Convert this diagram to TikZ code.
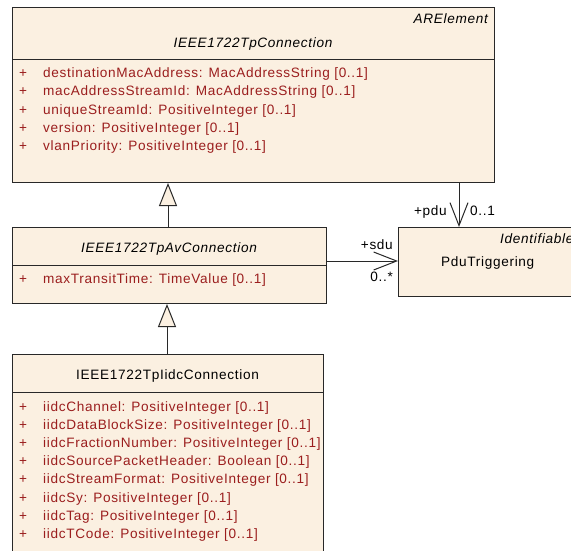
\documentclass[tikz,border=0pt]{standalone}
\usepackage{fontspec}
\newfontfamily\umlfont{Liberation Sans}[LetterSpace=5]
\usetikzlibrary{arrows.meta}
\definecolor{boxfill}{RGB}{251,240,225}
\definecolor{attrred}{RGB}{155,30,30}
\definecolor{edgegray}{RGB}{40,40,40}
\begin{document}
\begin{tikzpicture}[x=1pt,y=-1pt,
  box/.style={draw=edgegray, fill=boxfill, line width=1pt, rectangle, anchor=north west, inner sep=0pt},
  txt/.style={font=\umlfont\fontsize{13.6}{15}\selectfont, inner sep=0pt, anchor=base west},
  attr/.style={txt, text=attrred},
  ttl/.style={txt, anchor=base},
  ital/.style={font=\umlfont\itshape\fontsize{13.6}{15}\selectfont},
  gen/.style={draw=edgegray, line width=1pt, -{Triangle[length=23pt,width=18pt,fill=boxfill,line width=1pt]}},
  assoc/.style={draw=edgegray, line width=1pt, -{Straight Barb[length=23pt,width=18pt,line width=1pt]}}
]
\useasboundingbox (0,0) rectangle (571,550);
\clip (0,0) rectangle (571,550);
\fill[white] (0,0) rectangle (571,550);

% boxes
\node[box, minimum width=482pt, minimum height=175pt] (c1) at (12,7) {};
\node[box, minimum width=314pt, minimum height=76pt] (c2) at (12,227) {};
\node[box, minimum width=311pt, minimum height=230pt] (c3) at (12,354) {};
\node[box, minimum width=200pt, minimum height=69pt] (c4) at (398,227) {};

% dividers
\coordinate (d1) at (0,59);
\coordinate (d2) at (0,265);
\coordinate (d3) at (0,392);
\draw[edgegray, line width=1pt] (c1.west |- d1) -- (c1.east |- d1);
\draw[edgegray, line width=1pt] (c2.west |- d2) -- (c2.east |- d2);
\draw[edgegray, line width=1pt] (c3.west |- d3) -- (c3.east |- d3);

% box 1
\node[txt, ital, anchor=base east] (s1) at (488,23) {ARElement};
\node[ttl, ital] (t1) at (253,47.5) {IEEE1722TpConnection};
\foreach \t [count=\i from 0] in {destinationMacAddress: MacAddressString [0..1],
  macAddressStreamId: MacAddressString [0..1],
  uniqueStreamId: PositiveInteger [0..1],
  version: PositiveInteger [0..1],
  vlanPriority: PositiveInteger [0..1]} {
  \node[attr] (p1\i) at (19,77.5+18.25*\i) {+};
  \node[attr] (a1\i) at (43,77.5+18.25*\i) {\t};
}

% box 2
\node[ttl, ital] (t2) at (169,252.5) {IEEE1722TpAvConnection};
\node[attr] (p20) at (19,283.5) {+};
\node[attr] (a20) at (43,283.5) {maxTransitTime: TimeValue [0..1]};

% box 3
\node[ttl] (t3) at (167.5,379.5) {IEEE1722TpIidcConnection};
\foreach \t [count=\i from 0] in {iidcChannel: PositiveInteger [0..1],
  iidcDataBlockSize: PositiveInteger [0..1],
  iidcFractionNumber: PositiveInteger [0..1],
  iidcSourcePacketHeader: Boolean [0..1],
  iidcStreamFormat: PositiveInteger [0..1],
  iidcSy: PositiveInteger [0..1],
  iidcTag: PositiveInteger [0..1],
  iidcTCode: PositiveInteger [0..1]} {
  \node[attr] (p3\i) at (19,411.5+18.1*\i) {+};
  \node[attr] (a3\i) at (43,411.5+18.1*\i) {\t};
}

% box 4
\node[txt, ital] (s4) at (500,243.5) {Identifiable};
\node[txt] (t4) at (441,266.5) {PduTriggering};

% generalizations
\coordinate (g1) at (168,0);
\coordinate (g2) at (167,0);
\draw[gen] (c2.north -| g1) -- (c1.south -| g1);
\draw[gen] (c3.north -| g2) -- (c2.south -| g2);

% associations
\coordinate (x1) at (459,0);
\coordinate (y1) at (0,261);
\draw[assoc] (c1.south -| x1) -- (c4.north -| x1);
\draw[assoc] (c2.east |- y1) -- (c4.west |- y1);

% role labels
\node[txt, anchor=base east] (l1) at (447,215.5) {+pdu};
\node[txt] (l2) at (470,215.5) {0..1};
\node[txt, anchor=base east] (l3) at (393,249.5) {+sdu};
\node[txt, anchor=base east] (l4) at (393,281) {0..*};
\end{tikzpicture}
\end{document}
